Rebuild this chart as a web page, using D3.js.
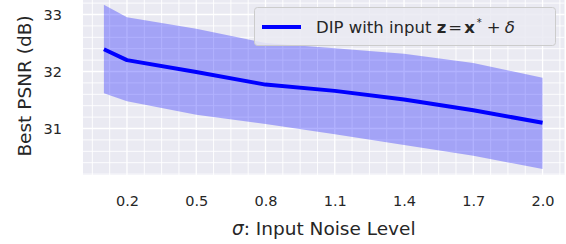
<!DOCTYPE html>
<html>
<head>
<meta charset="utf-8">
<script src="https://cdn.jsdelivr.net/npm/d3@7"></script>
<style>
  body { margin: 0; background: #fff; }
  svg { display: block; font-family: "DejaVu Sans", sans-serif; }
</style>
</head>
<body>
<div id="graph"></div>
<script>
// Données
const sigma = [0.1, 0.2, 0.5, 0.8, 1.1, 1.4, 1.7, 2.0];
const psnrMean = [32.39, 32.20, 31.99, 31.77, 31.66, 31.51, 31.32, 31.10];
const psnrUpper = [33.17, 32.95, 32.75, 32.50, 32.41, 32.31, 32.15, 31.89];
const psnrLower = [31.62, 31.48, 31.24, 31.08, 30.90, 30.71, 30.52, 30.29];
const xTicks = [0.2, 0.5, 0.8, 1.1, 1.4, 1.7, 2.0];
const yTicks = [31, 32, 33];

const W = 566, H = 244;
const plot = { left: 83, right: 564.5, top: -5, bottom: 175 };

const svg = d3.select("#graph").append("svg")
  .attr("width", W)
  .attr("height", H);

// Échelles
const x = d3.scaleLinear().domain([0.0095, 2.095]).range([plot.left, plot.right]);
const y = d3.scaleLinear().domain([33 - (175 - 14.5) / 57, 33 + (14.5 + 5) / 57]).range([plot.bottom, plot.top]);

// Fond
svg.append("rect")
  .attr("x", plot.left).attr("y", plot.top)
  .attr("width", plot.right - plot.left)
  .attr("height", plot.bottom - plot.top)
  .attr("fill", "#eaeaf2");

// Grille mineure + majeure
const grid = svg.append("g");
const xMinor = d3.range(-3, 30).map(i => 0.2 + i * 0.075).filter(v => x(v) > plot.left + 1 && x(v) < plot.right - 0.5);
const yMinor = d3.range(-10, 20).map(i => 31 + i * 0.2).filter(v => y(v) < plot.bottom + 0.5 && y(v) > plot.top);

grid.selectAll(".vx").data(xMinor).enter().append("line")
  .attr("x1", d => x(d)).attr("x2", d => x(d))
  .attr("y1", plot.top).attr("y2", plot.bottom)
  .attr("stroke", "#fff").attr("stroke-width", d => xTicks.some(t => Math.abs(t - d) < 1e-6) ? 1.3 : 0.9);

grid.selectAll(".hy").data(yMinor).enter().append("line")
  .attr("x1", plot.left).attr("x2", plot.right)
  .attr("y1", d => y(d)).attr("y2", d => y(d))
  .attr("stroke", "#fff").attr("stroke-width", d => yTicks.some(t => Math.abs(t - d) < 1e-6) ? 1.3 : 0.9);

// Bande
const area = d3.area()
  .x((d, i) => x(sigma[i]))
  .y0((d, i) => y(psnrLower[i]))
  .y1((d, i) => y(psnrUpper[i]));

svg.append("path")
  .datum(sigma)
  .attr("d", area)
  .attr("fill", "#0000ff")
  .attr("fill-opacity", 0.3);

// Courbe moyenne
const line = d3.line()
  .x((d, i) => x(sigma[i]))
  .y((d, i) => y(psnrMean[i]));

svg.append("path")
  .datum(sigma)
  .attr("d", line)
  .attr("fill", "none")
  .attr("stroke", "#0000ff")
  .attr("stroke-width", 4)
  .attr("stroke-linejoin", "round");

// Axes (labels seulement)
const xAxis = svg.append("g")
  .attr("transform", `translate(0,${plot.bottom})`)
  .call(d3.axisBottom(x).tickValues(xTicks).tickFormat(d3.format(".1f")).tickSize(0).tickPadding(21));
xAxis.select(".domain").remove();
xAxis.selectAll("text").attr("fill", "#262626").style("font-size", "14.5px").style("font-family", "DejaVu Sans");

const yAxis = svg.append("g")
  .attr("transform", `translate(${plot.left},0)`)
  .call(d3.axisLeft(y).tickValues(yTicks).tickFormat(d3.format("d")).tickSize(0).tickPadding(21));
yAxis.select(".domain").remove();
yAxis.selectAll("text").attr("fill", "#262626").style("font-size", "14.5px").style("font-family", "DejaVu Sans");

// Labels des axes
svg.append("text")
  .attr("x", (plot.left + plot.right) / 2)
  .attr("y", 235)
  .attr("text-anchor", "middle")
  .attr("fill", "#262626")
  .style("font-size", "18.5px")
  .html('<tspan font-style="italic">σ</tspan>: Input Noise Level');

svg.append("text")
  .attr("transform", "rotate(-90)")
  .attr("x", -86)
  .attr("y", 31)
  .attr("text-anchor", "middle")
  .attr("fill", "#262626")
  .style("font-size", "18.5px")
  .text("Best PSNR (dB)");

// Légende
const legend = svg.append("g");
legend.append("rect")
  .attr("x", 254.5).attr("y", 7.5)
  .attr("width", 301).attr("height", 38)
  .attr("rx", 3)
  .attr("fill", "#eaeaf2").attr("fill-opacity", 0.85)
  .attr("stroke", "#cccccc").attr("stroke-width", 1);
legend.append("line")
  .attr("x1", 262).attr("x2", 301)
  .attr("y1", 27).attr("y2", 27)
  .attr("stroke", "#0000ff").attr("stroke-width", 4);
legend.append("text")
  .attr("x", 316).attr("y", 33)
  .attr("fill", "#262626")
  .style("font-size", "16.5px")
  .html('DIP with input <tspan font-weight="bold">z</tspan><tspan dx="2">=</tspan><tspan dx="2" font-weight="bold">x</tspan><tspan dx="2" dy="-7" font-size="10px">*</tspan><tspan dx="5" dy="7">+</tspan><tspan dx="4" font-style="italic">δ</tspan>');
</script>
</body>
</html>
